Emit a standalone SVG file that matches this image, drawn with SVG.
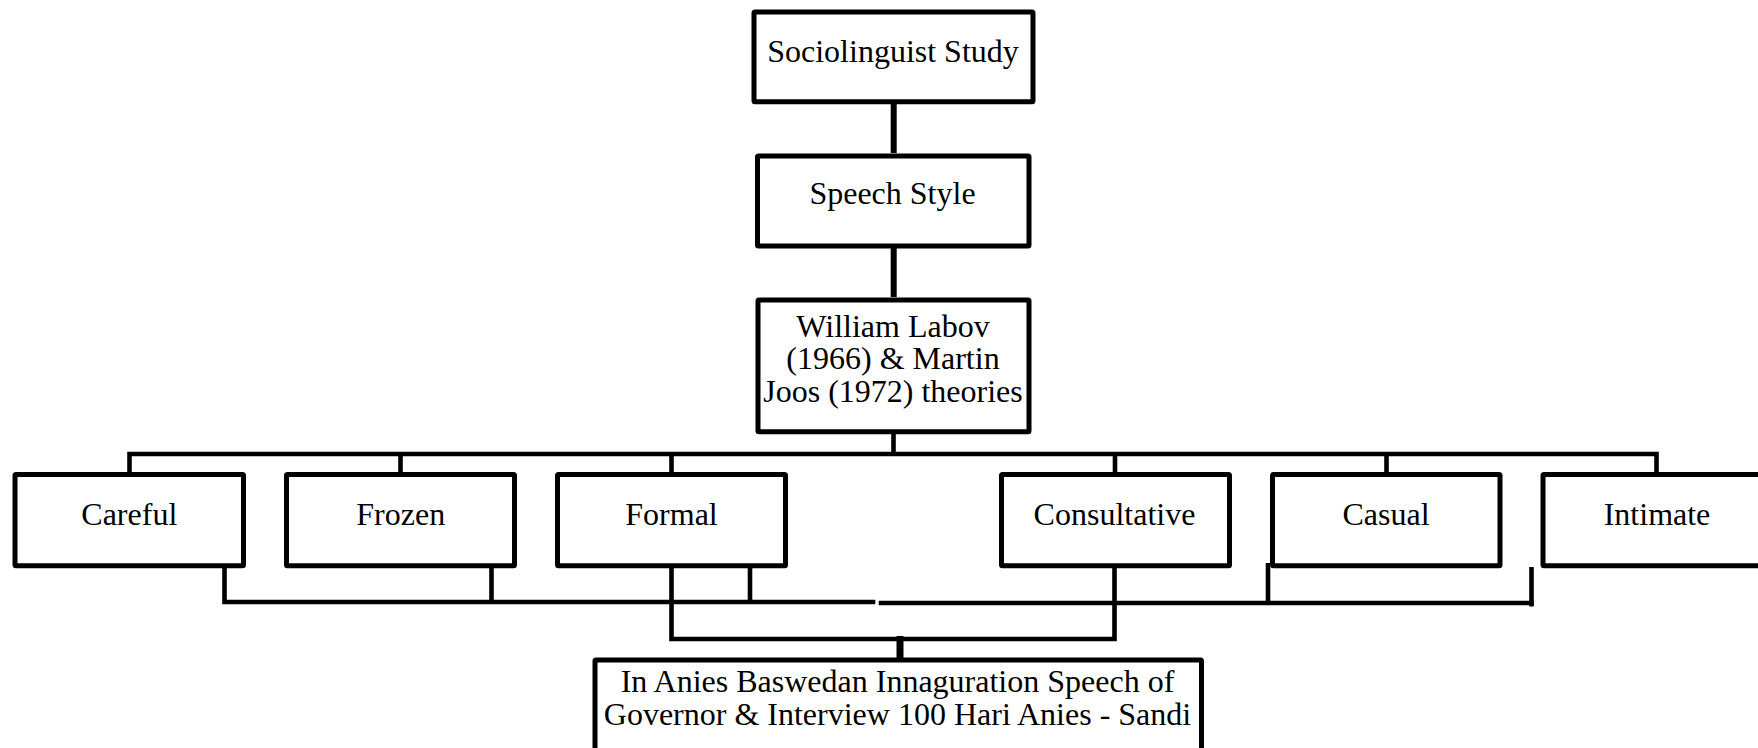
<svg xmlns="http://www.w3.org/2000/svg" width="1758" height="748" viewBox="0 0 1758 748">
<style>
.box{fill:#fff;stroke:#000;stroke-width:5;stroke-linejoin:round}
.lbl{font-family:"Liberation Serif","Times New Roman",serif;font-size:32px;fill:#000;text-anchor:middle}
.ln{fill:none;stroke:#000;stroke-width:4.6;stroke-linecap:square;stroke-linejoin:miter}
</style>
<rect width="1758" height="748" fill="#fff"/>
<g id="connectors">
<line class="ln" x1="893.7" y1="104" x2="893.7" y2="153" style="stroke-width:6;stroke-linecap:butt"/>
<line class="ln" x1="893.7" y1="248" x2="893.7" y2="297" style="stroke-width:6;stroke-linecap:butt"/>
<line class="ln" x1="893.5" y1="434" x2="893.5" y2="454" style="stroke-linecap:butt"/>
<path class="ln" d="M129.5 474 V454 H1656.5 V474"/>
<line class="ln" x1="400.5" y1="454" x2="400.5" y2="474" style="stroke-linecap:butt"/>
<line class="ln" x1="671.5" y1="454" x2="671.5" y2="474" style="stroke-linecap:butt"/>
<line class="ln" x1="1115" y1="454" x2="1115" y2="474" style="stroke-linecap:butt"/>
<line class="ln" x1="1386.5" y1="454" x2="1386.5" y2="474" style="stroke-linecap:butt"/>
<path class="ln" d="M224.5 567 V602 H873"/>
<line class="ln" x1="491.5" y1="563" x2="491.5" y2="602" style="stroke-linecap:butt"/>
<line class="ln" x1="750" y1="567" x2="750" y2="602" style="stroke-linecap:butt"/>
<path class="ln" d="M881 603 H1531.5"/>
<line class="ln" x1="1268" y1="563" x2="1268" y2="603" style="stroke-linecap:butt"/>
<line class="ln" x1="1531.5" y1="567" x2="1531.5" y2="606.5" style="stroke-linecap:butt"/>
<path class="ln" d="M671.5 567 V639 H1114.5 V567"/>
<line class="ln" x1="900" y1="636" x2="900" y2="659" style="stroke-width:7;stroke-linecap:butt"/>
</g>
<g id="node-sociolinguist">
<rect class="box" x="754" y="12" width="279" height="89.7" rx="1"/>
<text class="lbl" x="893" y="61.5">Sociolinguist Study</text>
</g>
<g id="node-speech-style">
<rect class="box" x="757.5" y="156" width="271.5" height="90" rx="1"/>
<text class="lbl" x="892.5" y="204">Speech Style</text>
</g>
<g id="node-theories">
<rect class="box" x="758" y="300" width="271" height="131.7" rx="1"/>
<text class="lbl" x="893" y="336.5">William Labov</text>
<text class="lbl" x="893" y="369">(1966) &amp; Martin</text>
<text class="lbl" x="893" y="401.5">Joos (1972) theories</text>
</g>
<g id="node-careful">
<rect class="box" x="15" y="474.5" width="228.5" height="91.2" rx="1"/>
<text class="lbl" x="129.3" y="525">Careful</text>
</g>
<g id="node-frozen">
<rect class="box" x="286.5" y="474.5" width="228" height="91.2" rx="1"/>
<text class="lbl" x="400.7" y="525">Frozen</text>
</g>
<g id="node-formal">
<rect class="box" x="557.5" y="474.5" width="228" height="91.2" rx="1"/>
<text class="lbl" x="671.5" y="525">Formal</text>
</g>
<g id="node-consultative">
<rect class="box" x="1001.5" y="474.5" width="228" height="91.2" rx="1"/>
<text class="lbl" x="1114.5" y="525">Consultative</text>
</g>
<g id="node-casual">
<rect class="box" x="1272.5" y="474.5" width="227.5" height="91.2" rx="1"/>
<text class="lbl" x="1386" y="525">Casual</text>
</g>
<g id="node-intimate">
<rect class="box" x="1543" y="474.5" width="228" height="91.2" rx="1"/>
<text class="lbl" x="1657" y="525">Intimate</text>
</g>
<g id="node-speech">
<rect class="box" x="595" y="660" width="606.5" height="120" rx="1"/>
<text class="lbl" x="897.5" y="691.5">In Anies Baswedan Innaguration Speech of</text>
<text class="lbl" x="897.5" y="725">Governor &amp; Interview 100 Hari Anies - Sandi</text>
</g>
</svg>
